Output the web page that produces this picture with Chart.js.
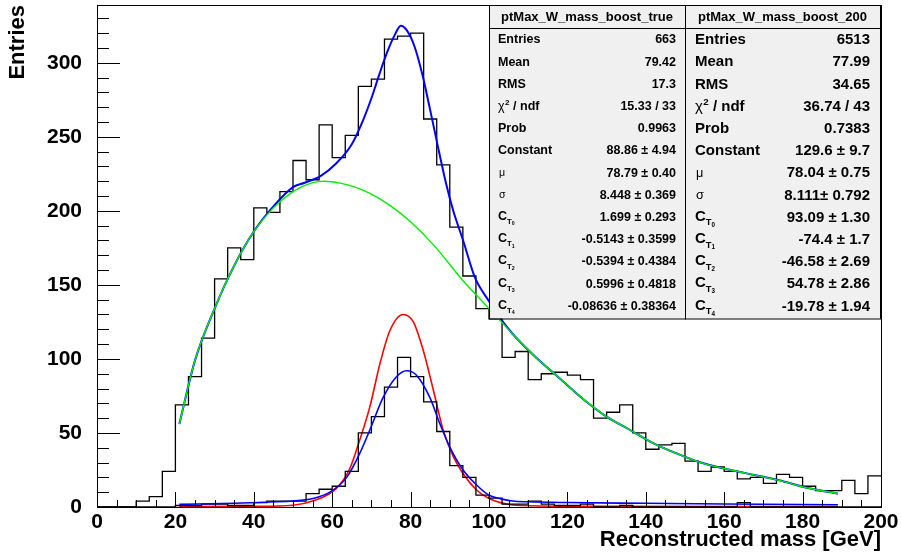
<!DOCTYPE html>
<html>
<head>
<meta charset="utf-8">
<script src="https://cdn.jsdelivr.net/npm/chart.js@4.4.0/dist/chart.umd.min.js"></script>
<style>
html, body { margin: 0; padding: 0; background: #fff; }
#wrap { width: 901px; height: 559px; }
</style>
</head>
<body>
<div id="wrap"><canvas id="massChart" width="901" height="559"></canvas></div>
<script>
// histogram binning
const xMin = 0;
const xMax = 200;
const nBins = 60;

// ptMax_W_mass_boost_200 (large histogram)
const boostCounts = [0, 0, 0, 4, 7, 24, 69, 88, 114, 154,
    175, 167, 202, 199, 213, 234, 221, 258, 236, 251,
    284, 289, 316, 318, 320, 262, 231, 189, 156, 134,
    127, 101, 105, 86, 90, 91, 89, 86, 60, 64,
    69, 50, 39, 42, 43, 31, 24, 27, 24, 19,
    20, 16, 22, 20, 14, 11, 11, 18, 9, 21];

// ptMax_W_mass_boost_true (small histogram)
const trueCounts = [0, 0, 0, 0, 0, 0, 1, 1, 2, 2,
    1, 1, 3, 4, 4, 4, 9, 12, 14, 24,
    50, 61, 81, 101, 88, 71, 51, 28, 20, 8,
    6, 2, 2, 4, 2, 1, 1, 2, 0, 0,
    1, 0, 0, 0, 0, 0, 0, 0, 0, 3,
    0, 0, 0, 0, 0, 0, 0, 0, 0, 0];

// fitted curves
const bgCurveX = [21, 25, 30, 35, 40, 45, 50, 55, 58, 62, 66, 70, 75, 80, 86, 93, 100, 106, 112, 118, 124, 130, 136, 142, 148, 154, 160, 167, 174, 181, 189];
const bgCurveY = [56, 99, 134, 163, 186, 202, 213, 219, 220, 218.7, 215.8, 211.3, 203.2, 192.6, 176.5, 154, 134, 117, 101, 87, 73, 61, 52, 43, 36, 30, 26, 22, 18, 13, 9];

const boostFitX = [21, 25, 30, 35, 40, 45, 50, 53, 57, 61, 65, 68, 70, 72, 74, 76, 77.5, 79, 81, 83, 85, 87, 89, 91, 93.4, 96.4, 100, 103, 106, 112, 118, 124, 130, 136, 142, 148, 154, 160, 167, 174, 181, 189];
const boostFitY = [56, 99, 134, 163, 186, 203, 216, 219, 223.5, 232, 245, 262, 276, 292, 307, 319, 325, 322, 311, 292, 268, 243, 219, 199, 180, 155, 139, 127, 117, 101, 87, 73, 61, 52, 43, 36, 30, 26, 22, 18, 13, 9];

const signalX = [21, 40, 50, 55, 61, 64.5, 67, 69.6, 72.2, 74.7, 78.1, 80.7, 83.2, 85.8, 88.3, 90.9, 93.4, 96.9, 100, 104.5, 110, 130, 160, 189];
const signalY = [0.3, 0.4, 1.2, 4, 12.4, 26, 45, 67.6, 97, 119, 130, 125, 106, 79, 52, 34, 22.5, 11.3, 5.7, 2, 0.8, 0.4, 0.3, 0.3];

const trueFitX = [21, 35, 44, 50, 55, 59.4, 63.7, 67, 69.6, 73, 76.4, 79, 81.5, 84.9, 87.5, 90, 93.4, 96.9, 100, 103, 106, 110, 120, 140, 160, 189];
const trueFitY = [1.8, 2.5, 3.4, 4, 5.7, 10, 20, 36, 52, 74, 88, 92, 89, 74, 56, 40.5, 25, 14.7, 8, 5.5, 4, 3.5, 3, 2.5, 2, 1.5];

// stats boxes
const statLabels = ['Entries', 'Mean', 'RMS', 'χ2 / ndf', 'Prob', 'Constant', 'μ', 'σ', 'C_T0', 'C_T1', 'C_T2', 'C_T3', 'C_T4'];
const trueTitle = 'ptMax_W_mass_boost_true';
const trueStatValues = ['663', '79.42', '17.3', '15.33 / 33', '0.9963', '88.86 ± 4.94', '78.79 ± 0.40', '8.448 ± 0.369', '1.699 ± 0.293', '-0.5143 ± 0.3599', '-0.5394 ± 0.4384', '0.5996 ± 0.4818', '-0.08636 ± 0.38364'];
const boostTitle = 'ptMax_W_mass_boost_200';
const boostStatValues = ['6513', '77.99', '34.65', '36.74 / 43', '0.7383', '129.6 ± 9.7', '78.04 ± 0.75', '8.111± 0.792', '93.09 ± 1.30', '-74.4 ± 1.7', '-46.58 ± 2.69', '54.78 ± 2.86', '-19.78 ± 1.94'];

const FONT = '"Liberation Sans", Arial, Helvetica, sans-serif';
const binWidth = (xMax - xMin) / nBins;

function histPoints(counts) {
    const pts = counts.map((v, i) => ({ x: xMin + i * binWidth, y: v }));
    pts.push({ x: xMax, y: counts[counts.length - 1] });
    return pts;
}

function curvePoints(xs, ys) {
    return xs.map((x, i) => ({ x: x, y: ys[i] }));
}

function histSet(counts) {
    return {
        data: histPoints(counts),
        borderColor: '#000',
        borderWidth: 1.3,
        stepped: true,
        pointRadius: 0,
        showLine: true,
        fill: false
    };
}

function curveSet(xs, ys, color, width) {
    return {
        data: curvePoints(xs, ys),
        borderColor: color,
        borderWidth: width,
        cubicInterpolationMode: 'monotone',
        pointRadius: 0,
        showLine: true,
        fill: false
    };
}

// frame and ROOT-style inner ticks
const framePlugin = {
    id: 'frame',
    afterDatasetsDraw(chart) {
        const { ctx, chartArea: a, scales } = chart;
        ctx.save();
        ctx.strokeStyle = '#000';
        ctx.lineWidth = 1;
        ctx.beginPath();
        for (let v = 0; v <= 335; v += 10) {
            const y = Math.round(scales.y.getPixelForValue(v)) + 0.5;
            const len = v % 50 === 0 ? 23 : 12;
            ctx.moveTo(a.left, y);
            ctx.lineTo(a.left + len, y);
        }
        for (let v = xMin; v <= xMax; v += 5) {
            const x = Math.round(scales.x.getPixelForValue(v)) + 0.5;
            const len = v % 20 === 0 ? 15 : 7;
            ctx.moveTo(x, a.bottom);
            ctx.lineTo(x, a.bottom - len);
        }
        ctx.stroke();
        ctx.strokeRect(Math.round(a.left) + 0.5, Math.round(a.top) + 0.5,
            Math.round(a.right - a.left), Math.round(a.bottom - a.top));
        ctx.restore();
    }
};

function drawStatLabel(ctx, label, x, y, size) {
    const bold = s => `bold ${s}px ${FONT}`;
    ctx.textAlign = 'left';
    ctx.textBaseline = 'middle';
    if (label.startsWith('C_T')) {
        ctx.font = bold(size);
        ctx.fillText('C', x, y - 1);
        let cx = x + ctx.measureText('C').width;
        ctx.font = bold(size * 0.62);
        ctx.fillText('T', cx, y + size * 0.35);
        cx += ctx.measureText('T').width;
        ctx.font = bold(size * 0.42);
        ctx.fillText(label.slice(3), cx, y + size * 0.5);
    } else if (label.startsWith('χ')) {
        ctx.font = `${size}px ${FONT}`;
        ctx.fillText('χ', x, y);
        let cx = x + ctx.measureText('χ').width + 0.5;
        ctx.font = bold(size * 0.65);
        ctx.fillText('2', cx, y - size * 0.3);
        cx += ctx.measureText('2').width;
        ctx.font = bold(size);
        ctx.fillText(' / ndf', cx, y);
    } else if (label === 'μ' || label === 'σ') {
        ctx.font = `${size * 0.85}px ${FONT}`;
        ctx.fillText(label, x + 1, y);
    } else {
        ctx.font = bold(size);
        ctx.fillText(label, x, y);
    }
}

const statsBoxes = [
    { left: 489, right: 685, title: trueTitle, values: trueStatValues, size: 12.5, pad: 9 },
    { left: 685, right: 880, title: boostTitle, values: boostStatValues, size: 15, pad: 10 }
];

const statsPlugin = {
    id: 'stats',
    afterDraw(chart) {
        const ctx = chart.ctx;
        const top = 5, bottom = 318.5, sep = 28.5;
        ctx.save();
        statsBoxes.forEach(b => {
            ctx.fillStyle = '#f0f0f0';
            ctx.fillRect(b.left, top, b.right - b.left, bottom - top);
            ctx.strokeStyle = '#000';
            ctx.lineWidth = 1;
            ctx.strokeRect(b.left + 0.5, top + 0.5, b.right - b.left, bottom - top);
            ctx.beginPath();
            ctx.moveTo(b.left, sep);
            ctx.lineTo(b.right, sep);
            ctx.stroke();
            ctx.fillStyle = '#000';
            ctx.font = `bold 13px ${FONT}`;
            ctx.textAlign = 'center';
            ctx.textBaseline = 'middle';
            ctx.fillText(b.title, (b.left + b.right) / 2, 17.5);
            statLabels.forEach((lab, i) => {
                const y = 40 + i * 22.2;
                drawStatLabel(ctx, lab, b.left + b.pad, y, b.size);
                ctx.font = `bold ${b.size}px ${FONT}`;
                ctx.textAlign = 'right';
                ctx.fillText(b.values[i], b.right - b.pad, y);
            });
        });
        ctx.restore();
    }
};

const tickFont = { family: FONT, size: 21, weight: 'bold' };
const titleFont = { family: FONT, size: 22, weight: 'bold' };

new Chart(document.getElementById('massChart'), {
    type: 'scatter',
    data: {
        datasets: [
            curveSet(trueFitX, trueFitY, '#0000ff', 1.6),
            histSet(trueCounts),
            curveSet(signalX, signalY, '#ff0000', 1.6),
            curveSet(bgCurveX, bgCurveY, '#00f000', 1.4),
            curveSet(boostFitX, boostFitY, '#0000ff', 2),
            histSet(boostCounts)
        ]
    },
    options: {
        responsive: false,
        animation: false,
        events: [],
        layout: { padding: { top: 5, right: 20, left: 0, bottom: 0 } },
        plugins: { legend: { display: false }, tooltip: { enabled: false } },
        scales: {
            x: {
                type: 'linear',
                min: xMin,
                max: xMax,
                grid: { display: false, drawTicks: false },
                border: { display: false },
                ticks: { stepSize: 20, font: tickFont, color: '#000', padding: 3, maxRotation: 0, autoSkip: false, includeBounds: false },
                title: { display: true, text: 'Reconstructed mass [GeV]', align: 'end', color: '#000', font: titleFont, padding: { top: 0, bottom: 6 } },
                afterFit: s => { s.height = 52; s.paddingLeft = 0; s.paddingRight = 0; }
            },
            y: {
                type: 'linear',
                min: 0,
                max: 339,
                grid: { display: false, drawTicks: false },
                border: { display: false },
                ticks: { stepSize: 50, font: tickFont, color: '#000', padding: 15, includeBounds: false },
                title: { display: true, text: 'Entries', align: 'end', color: '#000', font: titleFont, padding: { top: 5, bottom: 0 } },
                afterFit: s => { s.width = 97; s.paddingTop = 0; s.paddingBottom = 0; }
            }
        }
    },
    plugins: [framePlugin, statsPlugin]
});
</script>
</body>
</html>
